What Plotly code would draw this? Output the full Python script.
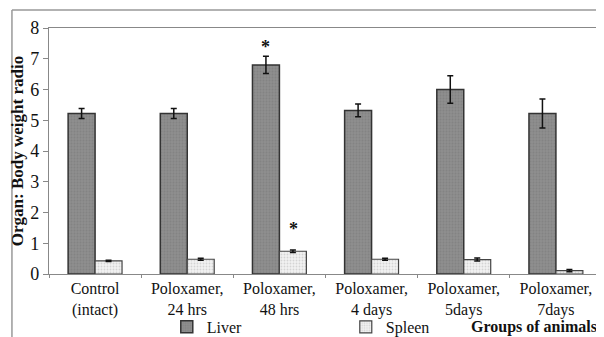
import plotly.graph_objects as go

categories = ["Control<br>(intact)", "Poloxamer,<br>24 hrs", "Poloxamer,<br>48 hrs",
              "Poloxamer,<br>4 days", "Poloxamer,<br>5days", "Poloxamer,<br>7days"]
liver = [5.22, 5.22, 6.8, 5.32, 6.0, 5.22]
liver_err = [0.16, 0.16, 0.28, 0.21, 0.45, 0.47]
spleen = [0.43, 0.48, 0.74, 0.48, 0.47, 0.11]
spleen_err = [0.02, 0.03, 0.04, 0.03, 0.05, 0.04]
y_ticks = [0, 1, 2, 3, 4, 5, 6, 7, 8]
star_groups = [2, 2]
star_series = ["liver", "spleen"]

FONT = "'Liberation Serif', 'DejaVu Serif', serif"

fig = go.Figure()
fig.add_trace(go.Bar(
    name="Liver", x=categories, y=liver,
    error_y=dict(type="data", array=liver_err, color="#111", thickness=1.5, width=3),
    marker=dict(color="#8a8a8a", line=dict(color="#333", width=1.5),
                pattern=dict(shape=".", fgcolor="#777", bgcolor="#8e8e8e", size=3, solidity=0.3)),
))
fig.add_trace(go.Bar(
    name="Spleen", x=categories, y=spleen,
    error_y=dict(type="data", array=spleen_err, color="#111", thickness=1.5, width=3),
    marker=dict(color="#eeeeee", line=dict(color="#444", width=1.2),
                pattern=dict(shape=".", fgcolor="#b5b5b5", bgcolor="#f2f2f2", size=3, solidity=0.3)),
))

# significance stars
for g, s in zip(star_groups, star_series):
    if s == "liver":
        yv = liver[g] + liver_err[g] + 0.3
        xs = -0.15
    else:
        yv = spleen[g] + spleen_err[g] + 0.69
        xs = 0.15
    fig.add_annotation(x=g + xs, y=yv, text="<b>*</b>", showarrow=False,
                       font=dict(family=FONT, size=18, color="#111"), xref="x", yref="y")

fig.add_annotation(x=0.995, y=-0.215, xref="paper", yref="paper", xanchor="right", yanchor="middle",
                   text="<b>Groups of animals</b>", showarrow=False,
                   font=dict(family=FONT, size=16, color="#111"))

# outer frame lines (top and left)
fig.add_shape(type="line", xref="paper", yref="paper", x0=-0.067, x1=1.01, y0=1.073, y1=1.073,
              line=dict(color="#999", width=1.5))
fig.add_shape(type="line", xref="paper", yref="paper", x0=-0.067, x1=-0.067, y0=1.073, y1=-0.26,
              line=dict(color="#999", width=1.5))

# the page body adds an 8px margin, so the figure is sized to fit inside the window
fig.update_layout(
    width=596, height=329,
    margin=dict(l=41, r=2, t=20, b=63, autoexpand=False),
    paper_bgcolor="white", plot_bgcolor="white",
    barmode="group", bargap=0.415, bargroupgap=0,
    font=dict(family=FONT, size=16, color="#111"),
    showlegend=True,
    legend=dict(orientation="h", x=0.213, y=-0.215, xanchor="left", yanchor="middle",
                entrywidth=134, entrywidthmode="pixels", itemwidth=30,
                font=dict(family=FONT, size=16, color="#111"), bgcolor="rgba(0,0,0,0)"),
    xaxis=dict(type="category", tickson="boundaries", ticks="outside", ticklen=3,
               tickangle=0, automargin=False,
               tickcolor="#888", showline=True, linecolor="#888", linewidth=1.2,
               mirror=True, tickfont=dict(family=FONT, size=16, color="#111")),
    yaxis=dict(range=[0, 8], tickvals=y_ticks, ticks="outside", ticklen=5, tickcolor="#888",
               automargin=False,
               showline=True, linecolor="#888", linewidth=1.2, mirror=True,
               showgrid=False, zeroline=False,
               tickfont=dict(family=FONT, size=18, color="#111"),
               title=dict(text="<b>Organ: Body weight radio</b>", standoff=3,
                          font=dict(family=FONT, size=17, color="#111"))),
)

fig.write_html("out.html")
